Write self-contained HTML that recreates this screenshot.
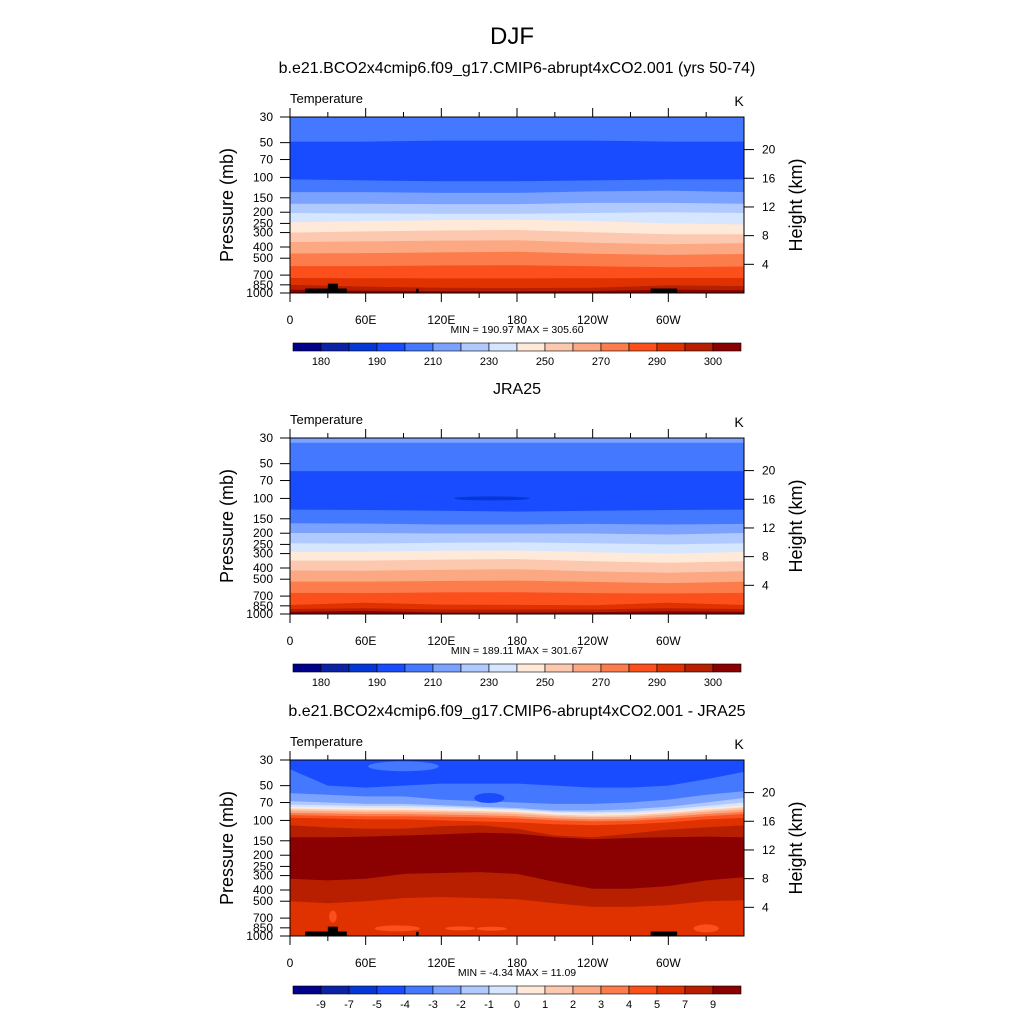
<!DOCTYPE html>
<html><head><meta charset="utf-8"><style>
html,body{margin:0;padding:0;background:#fff;}
svg{display:block;font-family:"Liberation Sans",sans-serif;}
</style></head><body>
<svg id="fig" width="1024" height="1024" viewBox="0 0 1024 1024" xmlns="http://www.w3.org/2000/svg">
<text x="512" y="44" font-size="24" text-anchor="middle">DJF</text>
</svg>
<script>
// ---- data ----
const palette = ["#00008b","#0b22a6","#0536d6","#1a4cff","#4478ff","#7ba2ff","#b0c9ff","#d6e6ff","#ffe9d9","#fcc9b0","#fca883","#fc7c4c","#fb4f1c","#e03200","#b81f00","#8b0000"];
const pressureTicks = [30,50,70,100,150,200,250,300,400,500,700,850,1000];
const heightTicks = [4,8,12,16,20];
const lonTicks = [0,60,120,180,240,300];
const lonLabels = ["0","60E","120E","180","120W","60W"];
const cbarLabelsT = ["180","190","210","230","250","270","290","300"];
const cbarLabelsD = ["-9","-7","-5","-4","-3","-2","-1","0","1","2","3","4","5","7","9"];

// contour pressures (mb) at evenly spaced longitudes 0..360; colour index of band below
const p1Top = 4;
const p1Contours = [
 [[49,49,48,48,48,49,49],3],
 [[104,106,108,108,106,104,104],4],
 [[134,134,136,136,132,130,134],5],
 [[169,169,170,170,166,166,169],6],
 [[203,205,206,206,203,200,203],7],
 [[245,238,234,232,238,250,255],8],
 [[300,293,288,285,298,310,310],9],
 [[362,358,352,350,368,378,370],10],
 [[455,452,445,440,458,468,460],11],
 [[585,585,578,575,588,598,590],12],
 [[742,745,748,748,745,742,742],13],
 [[850,880,900,905,900,860,870],14],
 [[936,955,965,965,960,935,945],15]
];
const p2Top = 5;
const p2Contours = [
 [[33,33,33,33,33,33,33],4],
 [[58,58,58,58,58,58,58],3],
 [[125,126,128,130,128,126,125],4],
 [[164,165,168,168,166,168,166],5],
 [[199,199,201,201,201,205,199],6],
 [[244,246,242,240,244,250,244],7],
 [[290,290,284,282,292,300,290],8],
 [[345,345,338,335,350,360,350],9],
 [[420,422,415,410,428,440,425],10],
 [[524,524,518,514,528,540,526],11],
 [[657,660,650,648,660,665,657],12],
 [[836,800,830,835,840,800,836],13],
 [[906,890,915,915,915,890,906],14],
 [[955,940,970,970,965,945,955],15]
];
const p3Top = 3;
const p3Contours = [
 [[36,50,52,50,48,48,48,50,52,52,50,44,38],4],
 [[58,60,62,62,66,68,70,72,72,70,66,60,56],5],
 [[68,70,72,72,74,76,78,82,82,80,76,70,64],6],
 [[73,74,75,75,76,78,80,84,85,84,80,75,70],7],
 [[76,77,78,78,79,80,82,86,88,87,83,78,74],8],
 [[79,80,81,81,82,83,85,89,91,90,86,81,77],9],
 [[82,83,84,84,85,86,88,92,94,93,89,84,80],10],
 [[86,87,88,88,89,90,92,96,98,97,93,88,84],11],
 [[90,91,92,92,93,94,96,100,102,101,97,92,88],12],
 [[95,96,98,98,100,102,104,108,110,108,104,98,95],13],
 [[110,115,118,118,112,110,118,135,140,130,120,115,110],14],
 [[140,140,138,135,132,128,130,140,145,142,140,138,140],15],
 [[320,330,320,290,285,280,290,340,390,390,370,330,310],14],
 [[500,520,500,470,460,470,480,520,560,560,540,500,490],13]
];
// patches: [lon, pressure, halfWidthDeg, halfHeightPx, colour]
const p1Patches = [];
const p2Patches = [[160,100,30,2,2]];
const p3Patches = [[90,34,28,5,4],[158,64,12,5,3],[85,860,18,3,12],[135,860,12,2,12],[160,865,12,2,12],[330,860,10,4,12],[34,680,3,6,12]];
// topography blocks: [lon0, lon1, pTop]
const topo = [[12,45,915],[30,38,830],[100,102,920],[286,307,915]];

const NS="http://www.w3.org/2000/svg";
const svg=document.getElementById('fig');
const X0=290,X1=744,H=176;
function xs(lon){return X0+(lon/360)*(X1-X0);}
function ysFn(top){return p=>top+H*Math.log10(p/30)/Math.log10(1000/30);}
function mk(tag,attrs,parent){const e=document.createElementNS(NS,tag);for(const k in attrs)e.setAttribute(k,attrs[k]);(parent||svg).appendChild(e);return e;}

function panel(id,top,title,bandTop,contours,patches,withTopo,cbarLabels,minmax){
  const ys=ysFn(top);
  const g=mk('g',{});
  
  
  const t=mk('text',{x:517,y:top-44,'font-size':16,'text-anchor':'middle'},g);t.textContent=title;
  
  
  const clip=mk('clipPath',{id:id+'-clip'},g);mk('rect',{x:X0,y:top,width:X1-X0,height:H},clip);
  const fg=mk('g',{'clip-path':'url(#'+id+'-clip)'},g);
  const base=mk('rect',{x:X0,y:top,width:X1-X0,height:H,fill:palette[bandTop]},fg);
  
  
  contours.forEach(([ps,ci])=>{
    const n=ps.length;let d='';
    ps.forEach((p,i)=>{d+=(i?'L':'M')+xs(360*i/(n-1)).toFixed(1)+','+ys(p).toFixed(1);});
    d+='L'+X1+','+(top+H+2)+'L'+X0+','+(top+H+2)+'Z';
    const e=mk('path',{d:d,fill:palette[ci]},fg);
    
    
  });
  patches.forEach(([lon,p,hw,hh,ci])=>{
    const e=mk('ellipse',{cx:xs(lon),cy:ys(p),rx:(X1-X0)*hw/360,ry:hh,fill:palette[ci]},fg);
    
    
  });
  if(withTopo) topo.forEach(([a,b,p])=>{
    const e=mk('rect',{x:xs(a),y:ys(p),width:xs(b)-xs(a),height:top+H-ys(p),fill:'#000'},fg);
    
    
  });
  mk('rect',{x:X0,y:top,width:X1-X0,height:H,fill:'none',stroke:'#000','stroke-width':1},g);
  // labels
  let e=mk('text',{x:X0,y:top-14,'font-size':13},g);e.textContent='Temperature';
  
  
  e=mk('text',{x:739,y:top-11,'font-size':14,'text-anchor':'middle'},g);e.textContent='K';
  
  
  // pressure axis
  pressureTicks.forEach(p=>{const y=ys(p);mk('line',{x1:X0-10,x2:X0,y1:y,y2:y,stroke:'#000'},g);
    const tx=mk('text',{x:273,y:y+4,'font-size':12,'text-anchor':'end'},g);tx.textContent=p;
    
    });
  heightTicks.forEach(z=>{const y=ys(1000*Math.exp(-z/7));mk('line',{x1:X1,x2:X1+10,y1:y,y2:y,stroke:'#000'},g);
    const tx=mk('text',{x:762,y:y+4,'font-size':12},g);tx.textContent=z;
    
    });
  for(let lon=0;lon<360;lon+=30){const x=xs(lon),maj=lon%60===0,L=maj?9:5;
    mk('line',{x1:x,x2:x,y1:top,y2:top-L,stroke:'#000'},g);
    mk('line',{x1:x,x2:x,y1:top+H,y2:top+H+L,stroke:'#000'},g);}
  lonTicks.forEach((lon,i)=>{const tx=mk('text',{x:xs(lon),y:top+H+31,'font-size':12,'text-anchor':'middle'},g);tx.textContent=lonLabels[i];
    
    });
  e=mk('text',{x:517,y:top+H+40,'font-size':10.5,'text-anchor':'middle'},g);e.textContent=minmax;
  
  
  e=mk('text',{x:0,y:0,'font-size':18,'text-anchor':'middle',transform:`translate(233,${top+88}) rotate(-90)`},g);e.textContent='Pressure (mb)';
  
  
  e=mk('text',{x:0,y:0,'font-size':18,'text-anchor':'middle',transform:`translate(802,${top+88}) rotate(-90)`},g);e.textContent='Height (km)';
  
  
  // colorbar
  const cy=top+226,cx0=293,bw=28;
  palette.forEach((c,i)=>{const r=mk('rect',{x:cx0+i*bw,y:cy,width:bw,height:8,fill:c,stroke:'#000','stroke-width':0.6},g);
    
    });
  const step=cbarLabels.length===8?2:1;
  cbarLabels.forEach((l,i)=>{const b=1+i*step;const tx=mk('text',{x:cx0+b*bw,y:cy+22,'font-size':11,'text-anchor':'middle'},g);tx.textContent=l;
    
    });
}
panel('panel-model',117,'b.e21.BCO2x4cmip6.f09_g17.CMIP6-abrupt4xCO2.001 (yrs 50-74)',p1Top,p1Contours,p1Patches,true,cbarLabelsT,'MIN = 190.97  MAX = 305.60');
panel('panel-jra25',438,'JRA25',p2Top,p2Contours,p2Patches,false,cbarLabelsT,'MIN = 189.11  MAX = 301.67');
panel('panel-diff',760,'b.e21.BCO2x4cmip6.f09_g17.CMIP6-abrupt4xCO2.001 - JRA25',p3Top,p3Contours,p3Patches,true,cbarLabelsD,'MIN =  -4.34  MAX =  11.09');
</script>
</body></html>
